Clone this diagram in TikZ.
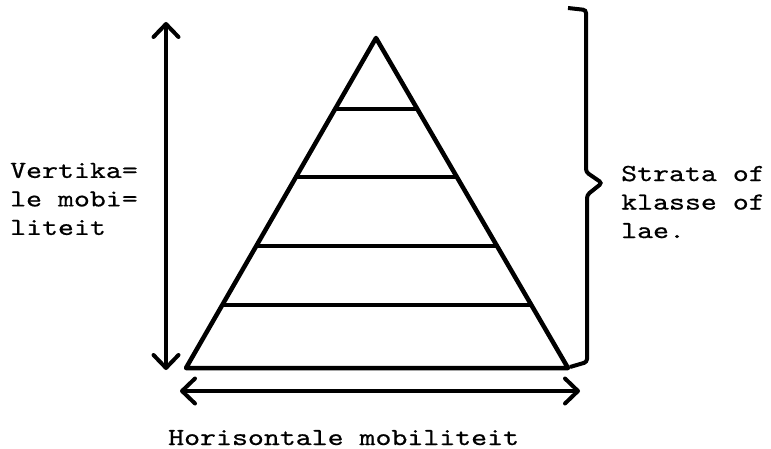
\documentclass[tikz,border=0pt]{standalone}
\usepackage{fontspec}
\newfontfamily\typewriter{lmmono10-regular.otf}[FakeStretch=1.24,FakeBold=0.6]
\usetikzlibrary{arrows.meta,calc}
\begin{document}
\begin{tikzpicture}[x=1pt,y=-1pt,
    typed/.style={font=\typewriter\fontsize{24.5}{28.5}\selectfont,inner sep=0pt,align=left},
    pen/.style={line width=4.5pt,line join=round,line cap=round},
    mob/.style={line width=4pt,{Straight Barb[length=13pt,width=25pt,line join=round,line cap=round]}-{Straight Barb[length=13pt,width=25pt,line join=round,line cap=round]}}]
  \useasboundingbox (0,0) rectangle (771,449);
  % pyramid
  \coordinate (apex) at (376,38); \coordinate (bl) at (186,368); \coordinate (br) at (568,368);
  \draw[pen] (apex)--(bl)--(br)--cycle;
  \foreach \t in {0.215,0.421,0.630,0.809}{
    \draw[line width=4pt] ($(apex)!\t!(bl)$)--($(apex)!\t!(br)$);
  }
  % mobility arrows
  \coordinate (vtop) at (166,22); \coordinate (vbot) at (166,370);
  \coordinate (hleft) at (180,391); \coordinate (hright) at (580,391);
  \draw[mob] (vtop)--(vbot);
  \draw[mob] (hleft)--(hright);
  % brace
  \draw[line width=4pt,rounded corners=3pt] (568,8)--(586,10)--(586,172)--(602,183)--(587,195)--(587,362)--(570,367);
  % labels
  \node[typed,anchor=west] (vert) at (10,199) {Vertika=\\le mobi=\\liteit};
  \node[typed,anchor=west] (strata) at (621,202) {Strata of\\klasse of\\lae.};
  \node[typed,anchor=base west] (hor) at (168,445) {Horisontale mobiliteit};
\end{tikzpicture}
\end{document}
